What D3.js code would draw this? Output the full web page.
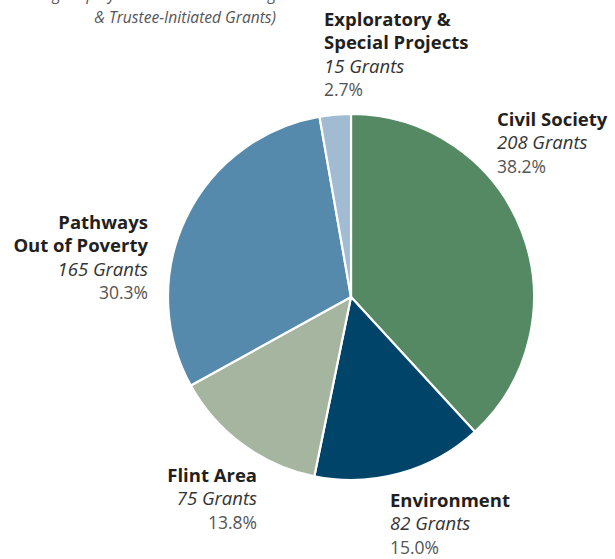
<!DOCTYPE html>
<html>
<head>
<meta charset="utf-8">
<script src="https://cdn.jsdelivr.net/npm/d3@7"></script>
<style>
  html, body { margin: 0; padding: 0; background: #fff; }
  svg { display: block; }
  text { font-family: "Open Sans", "Noto Sans", sans-serif; }
</style>
</head>
<body>
<svg id="chart" width="615" height="559"></svg>
<script>
// Grants by program area
const programs = ["Civil Society", "Environment", "Flint Area", "Pathways Out of Poverty", "Exploratory & Special Projects"];
const nameLines = [["Civil Society"], ["Environment"], ["Flint Area"], ["Pathways", "Out of Poverty"], ["Exploratory &", "Special Projects"]];
const grantCounts = [208, 82, 75, 165, 15];
const shareLabels = ["38.2%", "15.0%", "13.8%", "30.3%", "2.7%"];
const sliceColors = ["#558963", "#00446a", "#a5b5a0", "#568aac", "#a0bbd2"];
const noteLines = ["(Excluding Employee and Board Matching", "& Trustee-Initiated Grants)"];

const W = 615, H = 559;
const cx = 351, cy = 297, radius = 183;

const svg = d3.select("#chart");

// Note above the chart (its first line runs past the top edge)
const note = svg.append("text")
  .attr("text-anchor", "end")
  .attr("font-style", "italic")
  .attr("font-size", 15.6)
  .attr("fill", "#555");
noteLines.forEach((t, i) => {
  note.append("tspan").attr("x", 276).attr("y", -0.5 + i * 23.5).text(t);
});

// Pie
const pie = d3.pie().sort(null).value(d => d)(grantCounts);
const arc = d3.arc().innerRadius(0).outerRadius(radius);

svg.append("g")
  .attr("transform", `translate(${cx},${cy})`)
  .selectAll("path")
  .data(pie)
  .join("path")
  .attr("d", arc)
  .attr("fill", (d, i) => sliceColors[i])
  .attr("stroke", "#fff")
  .attr("stroke-width", 2.2)
  .attr("stroke-linejoin", "round");

// Label placement: anchor point and alignment of each slice label block
const labelLayout = [
  { x: 497, y: 126, anchor: "start" },
  { x: 390, y: 507, anchor: "start" },
  { x: 257, y: 482, anchor: "end" },
  { x: 148, y: 229, anchor: "end" },
  { x: 324, y: 26, anchor: "start" }
];
const lineH = 23.4;

programs.forEach((p, i) => {
  const L = labelLayout[i];
  const g = svg.append("g");
  const lines = nameLines[i];
  lines.forEach((t, j) => {
    g.append("text")
      .attr("x", L.x).attr("y", L.y + j * lineH)
      .attr("text-anchor", L.anchor)
      .attr("font-weight", 700)
      .attr("font-size", 18.5)
      .attr("fill", "#231f20")
      .text(t);
  });
  const n = lines.length;
  g.append("text")
    .attr("x", L.x).attr("y", L.y + n * lineH)
    .attr("text-anchor", L.anchor)
    .attr("font-style", "italic")
    .attr("font-size", 18.5)
    .attr("fill", "#333")
    .text(`${grantCounts[i]} Grants`);
  g.append("text")
    .attr("x", L.x).attr("y", L.y + (n + 1) * lineH)
    .attr("text-anchor", L.anchor)
    .attr("font-size", 17.5)
    .attr("fill", "#555")
    .text(shareLabels[i]);
});
</script>
</body>
</html>
